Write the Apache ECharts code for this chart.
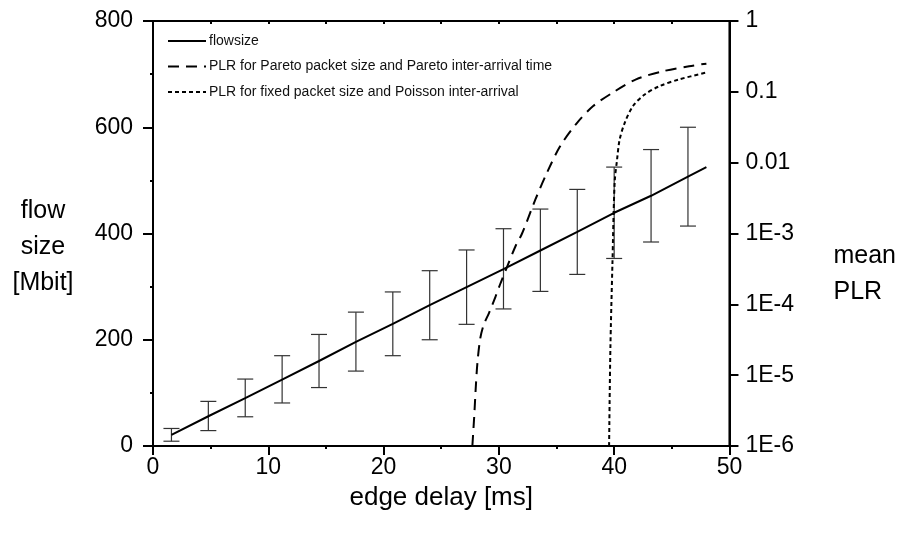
<!DOCTYPE html>
<html>
<head>
<meta charset="utf-8">
<script src="https://cdn.jsdelivr.net/npm/echarts@6/dist/echarts.min.js"></script>
<style>
html,body{margin:0;padding:0;background:#fff;}
#chart{width:899px;height:537px;}
</style>
</head>
<body>
<div id="chart"></div>
<script>
// ---- data ----
const xTicks = [0, 10, 20, 30, 40, 50];
const leftTicks = [0, 200, 400, 600, 800];
const rightTickLabels = ['1E-6', '1E-5', '1E-4', '1E-3', '0.01', '0.1', '1'];

// flow size mean line (Mbit) vs edge delay (ms)
const flowDelay = [1.6, 4.8, 8.0, 11.2, 14.4, 17.6, 20.8, 24.0, 27.2, 30.4, 33.6, 36.8, 40.0, 43.2, 46.4, 48.0];
const flowSize  = [21, 56, 90, 125, 160, 196, 230, 265, 299, 333, 368, 403, 439, 471, 507, 525];

// error bars
const errDelay = [1.6, 4.8, 8.0, 11.2, 14.4, 17.6, 20.8, 24.0, 27.2, 30.4, 33.6, 36.8, 40.0, 43.2, 46.4];
const errLow   = [9, 29, 55, 81, 110, 141, 170, 200, 229, 258, 291, 323, 353, 384, 414];
const errHigh  = [33, 84, 126, 170, 210, 252, 290, 330, 369, 409, 446, 483, 525, 558, 600];

// PLR for Pareto packet size and Pareto inter-arrival time
const paretoDelay = [27.7, 27.86, 28.0, 28.14, 28.37, 28.66, 29.15, 29.72, 30.15, 30.72, 31.44, 32.01, 33.16, 34.17, 35.31, 36.75, 38.18, 39.9, 41.9, 44.2, 46.5, 48.0];
const paretoPLR   = [1e-6, 2.6e-6, 6.9e-6, 1.5e-5, 3.2e-5, 5e-5, 7.6e-5, 1.3e-4, 2.0e-4, 3.4e-4, 6.6e-4, 1.0e-3, 3.0e-3, 7.2e-3, 1.7e-2, 3.6e-2, 6.3e-2, 9.8e-2, 0.15, 0.195, 0.23, 0.25];

// PLR for fixed packet size and Poisson inter-arrival
const poissonDelay = [39.56, 39.67, 39.85, 40.04, 40.25, 40.47, 40.9, 41.63, 42.62, 43.92, 45.64, 47.93];
const poissonPLR   = [1e-6, 2.3e-5, 3.8e-4, 5.2e-3, 0.011, 0.021, 0.036, 0.063, 0.091, 0.12, 0.15, 0.186];

const seriesNames = ['flowsize', 'PLR for Pareto packet size and Pareto inter-arrival time', 'PLR for fixed packet size and Poisson inter-arrival'];

// ---- chart ----
const FONT = "'Liberation Sans', Arial, sans-serif";
const zip = (a, b) => a.map((v, i) => [v, b[i]]);

const chart = echarts.init(document.getElementById('chart'));
const axisLine = { show: true, onZero: false, lineStyle: { color: '#000', width: 2 } };

chart.setOption({
  animation: false,
  backgroundColor: '#fff',
  grid: { left: 153, right: 165, top: 21, bottom: 91, show: true, borderColor: '#000', borderWidth: 2, backgroundColor: 'transparent' },
  legend: {
    data: seriesNames,
    orient: 'vertical',
    left: 167, top: 34, padding: 0,
    itemWidth: 38, itemHeight: 14, itemGap: 11.5,
    itemStyle: { opacity: 0 },
    textStyle: { fontFamily: FONT, fontSize: 14, color: '#111', padding: [0, 0, 0, -2] },
    selectedMode: false
  },
  xAxis: [{
    type: 'value', min: xTicks[0], max: xTicks[xTicks.length - 1], interval: 10,
    position: 'bottom',
    axisLine: axisLine,
    axisTick: { show: true, length: 9, lineStyle: { color: '#000', width: 2 } },
    minorTick: { show: true, splitNumber: 2, length: 3, lineStyle: { color: '#000', width: 2 } },
    splitLine: { show: false },
    axisLabel: { fontFamily: FONT, fontSize: 23, color: '#000', margin: 10 },
    name: 'edge delay [ms]', nameLocation: 'middle', nameGap: 39,
    nameTextStyle: { fontFamily: FONT, fontSize: 26, color: '#000' }
  }, {
    type: 'value', position: 'top', min: xTicks[0], max: xTicks[xTicks.length - 1], interval: 5,
    axisLine: axisLine,
    axisTick: { show: true, inside: true, length: 3, lineStyle: { color: '#000', width: 2 } },
    axisLabel: { show: false }, splitLine: { show: false }
  }],
  yAxis: [{
    type: 'value', min: leftTicks[0], max: leftTicks[leftTicks.length - 1], interval: 200,
    position: 'left',
    axisLine: axisLine,
    axisTick: { show: true, length: 10, lineStyle: { color: '#000', width: 2 } },
    minorTick: { show: true, splitNumber: 2, length: 3, lineStyle: { color: '#000', width: 2 } },
    splitLine: { show: false },
    axisLabel: { fontFamily: FONT, fontSize: 23, color: '#000', margin: 20 },
    name: '{s| }\nflow\nsize\n[Mbit]', nameLocation: 'middle', nameRotate: 0, nameGap: 110,
    nameTextStyle: { fontFamily: FONT, fontSize: 25, color: '#000', align: 'center', lineHeight: 36,
      rich: { s: { fontSize: 10, lineHeight: 27, height: 27 } } }
  }, {
    type: 'log', logBase: 10, min: 1e-6, max: 1,
    position: 'right',
    axisLine: axisLine,
    axisTick: { show: true, length: 9, lineStyle: { color: '#000', width: 2 } },
    splitLine: { show: false },
    axisLabel: {
      fontFamily: FONT, fontSize: 23, color: '#000', margin: 16,
      formatter: function (v) {
        const e = Math.round(Math.log10(v));
        return rightTickLabels[e + 6];
      }
    },
    name: '{s| }\nmean\nPLR', nameLocation: 'middle', nameRotate: 0, nameGap: 104,
    nameTextStyle: { fontFamily: FONT, fontSize: 25, color: '#000', align: 'left', lineHeight: 36,
      rich: { s: { fontSize: 10, lineHeight: 82, height: 82 } } }
  }],
  series: [{
    name: seriesNames[0], type: 'line', xAxisIndex: 0, yAxisIndex: 0,
    data: zip(flowDelay, flowSize), symbol: 'none',
    lineStyle: { color: '#000', width: 2, type: 'solid' }, itemStyle: { color: '#000' }, z: 5
  }, {
    name: 'errorbars', type: 'custom', xAxisIndex: 0, yAxisIndex: 0,
    data: errDelay.map((d, i) => [d, errLow[i], errHigh[i]]),
    renderItem: function (params, api) {
      const x = api.value(0);
      const lo = api.coord([x, api.value(1)]);
      const hi = api.coord([x, api.value(2)]);
      const hw = 8;
      const st = { stroke: '#333', lineWidth: 1.2 };
      return { type: 'group', children: [
        { type: 'line', shape: { x1: lo[0], y1: lo[1], x2: hi[0], y2: hi[1] }, style: st },
        { type: 'line', shape: { x1: lo[0] - hw, y1: lo[1], x2: lo[0] + hw, y2: lo[1] }, style: st },
        { type: 'line', shape: { x1: hi[0] - hw, y1: hi[1], x2: hi[0] + hw, y2: hi[1] }, style: st }
      ] };
    },
    z: 4
  }, {
    name: seriesNames[1], type: 'line', xAxisIndex: 0, yAxisIndex: 1,
    data: zip(paretoDelay, paretoPLR), symbol: 'none', smooth: 0.3,
    lineStyle: { color: '#000', width: 2, type: [11, 7] }, itemStyle: { color: '#000' }, z: 5
  }, {
    name: seriesNames[2], type: 'line', xAxisIndex: 0, yAxisIndex: 1,
    data: zip(poissonDelay, poissonPLR), symbol: 'none', smooth: 0.3,
    lineStyle: { color: '#000', width: 2, type: [4, 3] }, itemStyle: { color: '#000' }, z: 5
  }]
});
</script>
</body>
</html>
